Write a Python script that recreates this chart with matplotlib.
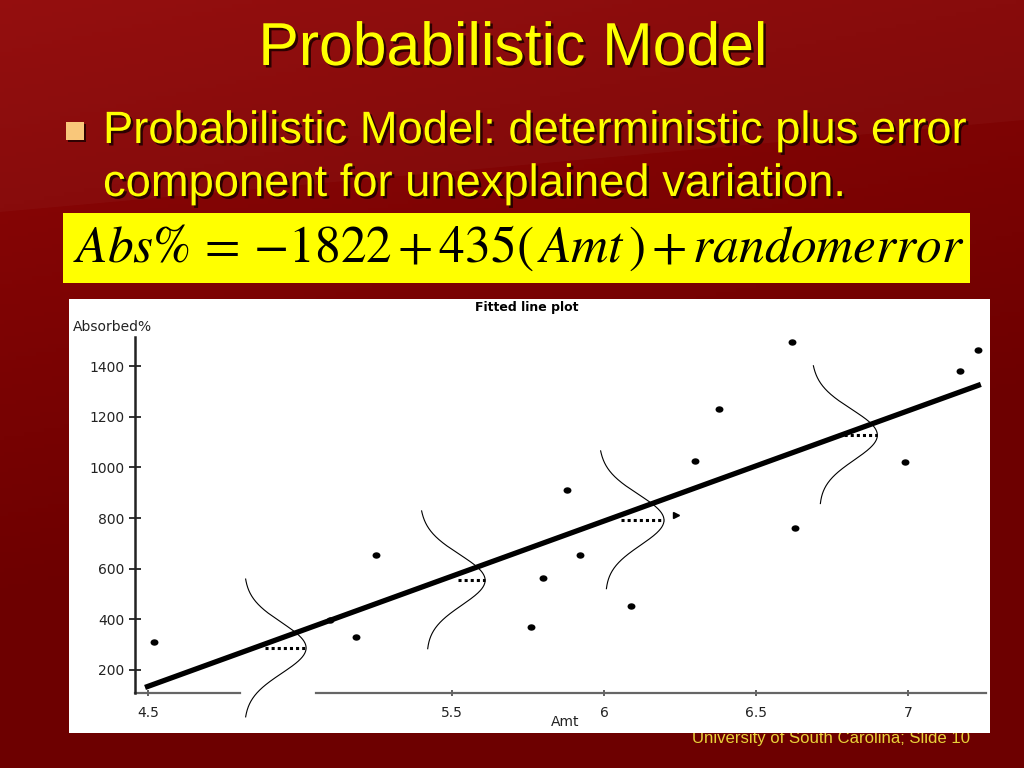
import numpy as np
import matplotlib
matplotlib.use("Agg")
import matplotlib.pyplot as plt
import matplotlib.patheffects as pe
from matplotlib.patches import Rectangle, Polygon
from matplotlib.path import Path
from matplotlib.transforms import Affine2D

plt.rcParams['mathtext.fontset'] = 'stix'

# ---------------- data ----------------
amt = [4.52, 5.10, 5.185, 5.25, 5.76, 5.80, 5.88, 5.92, 6.09, 6.30, 6.38, 6.62, 6.63, 6.99, 7.17, 7.23]
absorbed = [311, 398, 330, 655, 370, 564, 911, 655, 453, 1026, 1232, 1493, 761, 1022, 1382, 1465]
intercept = -1822
slope = 435
line_x = [4.49, 7.24]
yticks = [200, 400, 600, 800, 1000, 1200, 1400]
xticks = [4.5, 5.5, 6, 6.5, 7]
xtick_labels = ["4.5", "5.5", "6", "6.5", "7"]

# error distributions drawn along the line
curve_base_top = [4.816, 5.395, 5.984, 6.684]
curve_base_bottom = [4.816, 5.415, 6.003, 6.707]
curve_center = [287, 556, 793, 1129]
curve_height = 0.204
curve_sigma = 100
curve_halfspan = 272
dot_start = [4.885, 5.52, 6.056, 6.770]
stray_mark_x = [6.237]
stray_mark_y = [812]

title = "Probabilistic Model"
bullet1 = "Probabilistic Model: deterministic plus error"
bullet2 = "component for unexplained variation."
equation = r"$Abs\%\,{=}\,{-}1822\,{+}\,435(\,Amt\,)\,{+}\,randomerror$"
footer = "University of South Carolina; Slide 10"
chart_title = "Fitted line plot"
y_label = "Absorbed%"
x_label = "Amt"

# ---------------- figure ----------------
W, H = 1024, 768
fig = plt.figure(figsize=(W / 100, H / 100), dpi=100)

bg = fig.add_axes([0, 0, 1, 1], zorder=-1)
bg.set_xlim(0, W)
bg.set_ylim(H, 0)
bg.axis('off')

# background gradient (dark red, lighter toward top-left)
gy, gx = np.mgrid[0:H:4, 0:W:4]
t = np.clip(gy / H * 1.3 + gx / W * 0.35, 0, 1)
light = np.array([0.57, 0.03, 0.03])
dark = np.array([0.43, 0.0, 0.0])
img = light[None, None, :] * (1 - t[..., None]) + dark[None, None, :] * t[..., None]
bg.imshow(img, extent=[0, W, H, 0], aspect='auto', zorder=0)
bg.add_patch(Polygon([[0, 0], [W, 0], [W, 120], [0, 212]], closed=True,
                     facecolor='white', alpha=0.03, edgecolor='none', zorder=0.5))

shadow = [pe.withSimplePatchShadow(offset=(1.8, -1.8), shadow_rgbFace='#1a0000', alpha=0.85)]


def fit_width(txt, target):
    for _ in range(3):
        fig.canvas.draw()
        w = txt.get_window_extent(renderer=fig.canvas.get_renderer()).width
        txt.set_fontsize(txt.get_fontsize() * target / w)


# footer (partly hidden by the chart picture)
ft = bg.text(970, 743, footer, ha='right', va='baseline', color='#e8d23a',
             family='Liberation Sans', fontsize=13, zorder=1)
fit_width(ft, 280)

# title
tt = bg.text(513, 65, title, ha='center', va='baseline', color='#ffff00',
             family='Liberation Sans', fontsize=44, zorder=3, path_effects=shadow)
fit_width(tt, 510)

# bullet
bg.add_patch(Rectangle((66, 122), 18, 18, facecolor='#f9c77a', edgecolor='none', zorder=3,
                       path_effects=[pe.SimplePatchShadow(offset=(1.5, -1.5), shadow_rgbFace='#1a0000', alpha=0.8),
                                     pe.Normal()]))
b1 = bg.text(103, 143, bullet1, ha='left', va='baseline', color='#ffff00',
             family='Liberation Sans', fontsize=27, zorder=3, path_effects=shadow)
fit_width(b1, 865)
b2 = bg.text(103, 196, bullet2, ha='left', va='baseline', color='#ffff00',
             family='Liberation Sans', fontsize=b1.get_fontsize(), zorder=3, path_effects=shadow)

# equation box
bg.add_patch(Rectangle((63, 213), 907, 70, facecolor='#ffff00', edgecolor='none', zorder=3))
eq = bg.text(519, 262, equation, ha='center', va='baseline', color='black',
             fontsize=34, zorder=4)
fit_width(eq, 892)

# chart picture background
bg.add_patch(Rectangle((69, 299), 921, 434, facecolor='white', edgecolor='none', zorder=2))

# ---------------- chart axes ----------------
ax_l, ax_r, ax_t, ax_b = 135, 986, 337, 693
ax = fig.add_axes([ax_l / W, 1 - ax_b / H, (ax_r - ax_l) / W, (ax_b - ax_t) / H], zorder=1)
ax.patch.set_alpha(0)
xlim = (4.457, 7.257)
ylim = (109.2, 1514.5)
ax.set_xlim(*xlim)
ax.set_ylim(*ylim)

for s in ['top', 'right', 'bottom']:
    ax.spines[s].set_visible(False)
ax.spines['left'].set_color('#222222')
ax.spines['left'].set_linewidth(1.8)

ax.set_yticks(yticks)
ax.set_yticklabels([str(v) for v in yticks], family='DejaVu Sans', fontsize=10, color='#222222')
ax.set_xticks(xticks)
ax.set_xticklabels(xtick_labels, family='DejaVu Sans', fontsize=10, color='#222222')
ax.tick_params(axis='y', direction='inout', length=9, width=1.3, color='#222222', pad=3)
ax.tick_params(axis='x', direction='inout', length=5, width=1.3, color='#555555', pad=7)

# x axis line with a gap where the first error curve crosses it
gap_lo = curve_base_top[0] - 0.013
gap_hi = curve_base_top[0] + curve_height + 0.033
ax.plot([xlim[0], gap_lo], [ylim[0], ylim[0]], color='#666666', lw=1.6, clip_on=False, zorder=2)
ax.plot([gap_hi, xlim[1]], [ylim[0], ylim[0]], color='#666666', lw=1.6, clip_on=False, zorder=2)

# error curves
for bt, bb, c, ds in zip(curve_base_top, curve_base_bottom, curve_center, dot_start):
    yy = np.linspace(c - curve_halfspan, c + curve_halfspan, 300)
    base = bb + (bt - bb) * (yy - (c - curve_halfspan)) / (2 * curve_halfspan)
    xx = base + curve_height * np.exp(-0.5 * ((yy - c) / curve_sigma) ** 2)
    ax.plot(xx, yy, color='black', lw=0.8, clip_on=False, zorder=3)
    peak = (bt + bb) / 2 + curve_height
    ax.plot([ds, peak], [c, c], color='black', lw=2.2, linestyle=(0, (1, 1)), zorder=3)

ax.plot(stray_mark_x, stray_mark_y, marker='>', color='black', ms=4, lw=0, zorder=3)

# fitted line
lx = np.array(line_x)
ax.plot(lx, intercept + slope * lx, color='black', lw=3.8, solid_capstyle='butt', zorder=4)

# data points (slightly wide ellipses)
ell = Path.unit_circle().transformed(Affine2D().scale(1.3, 1.0))
ax.scatter(amt, absorbed, marker=ell, s=22, color='black', zorder=5)

# chart labels
bg.text(527, 307, chart_title, ha='center', va='center', fontsize=9, fontweight='bold',
        family='DejaVu Sans', color='black', zorder=4)
bg.text(73, 327, y_label, ha='left', va='center', fontsize=10,
        family='DejaVu Sans', color='#222222', zorder=4)
bg.text(565, 722, x_label, ha='center', va='center', fontsize=10,
        family='DejaVu Sans', color='#222222', zorder=4)

fig.savefig("out.png", dpi=100)
